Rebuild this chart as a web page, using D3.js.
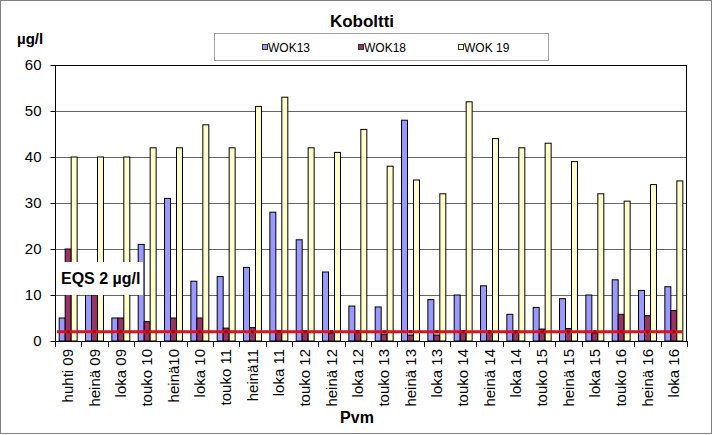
<!DOCTYPE html>
<html>
<head>
<meta charset="utf-8">
<script src="https://cdnjs.cloudflare.com/ajax/libs/d3/7.8.5/d3.min.js"></script>
<style>
  body { margin: 0; background: #fff; }
  svg { display: block; font-family: "Liberation Sans", Arial, sans-serif; }
</style>
</head>
<body>
<svg id="svg" width="714" height="435"></svg>
<script>
// kategoriat (näytteenottokerrat)
var cats = ["huhti 09", "heinä 09", "loka 09", "touko 10", "heinä10", "loka 10", "touko 11", "heinä11",
  "loka 11", "touko 12", "heinä 12", "loka 12", "touko 13", "heinä 13", "loka 13", "touko 14",
  "heinä 14", "loka 14", "touko 15", "heinä 15", "loka 15", "touko 16", "heinä 16", "loka 16"];
var seriesNames = ["WOK13", "WOK18", "WOK 19"];
var wok13 = [5, 10, 5, 21, 31, 13, 14, 16, 28, 22, 15, 7.6, 7.4, 48, 9, 10, 12, 5.8, 7.3, 9.2, 10, 13.3, 11, 11.8];
var wok18 = [20, 10, 5, 4.2, 5, 5, 2.8, 2.9, 2.3, 2.2, 1.7, 2.2, 1.5, 1.3, 1.3, 2.2, 2.1, 2.2, 2.6, 2.7, 1.7, 5.8, 5.5, 6.6];
var wok19 = [40, 40, 40, 42, 42, 47, 42, 51, 53, 42, 41, 46, 38, 35, 32, 52, 44, 42, 43, 39, 32, 30.4, 34, 34.8];
var yTicks = [0, 10, 20, 30, 40, 50, 60];
var eqs = 2;

var colors = ["#9999ff", "#993366", "#ffffcc"];

var svg = d3.select("#svg");
var pLeft = 55, pRight = 687, pTop = 65, pBottom = 341;

var x0 = d3.scaleBand().domain(cats).range([pLeft, pRight]).padding(0);
var x1 = d3.scaleBand().domain(seriesNames).range([0, x0.bandwidth()]).paddingInner(0).paddingOuter(0.7);
var y = d3.scaleLinear().domain([0, 60]).range([pBottom, pTop]);

// ulkoreunus
svg.append("rect").attr("x", 0.5).attr("y", 0.5).attr("width", 711).attr("height", 433)
  .attr("fill", "#fff").attr("stroke", "#808080");

// otsikko
svg.append("text").attr("x", 362).attr("y", 27).attr("text-anchor", "middle")
  .attr("font-size", 17).attr("font-weight", "bold").text("Koboltti");
svg.append("text").attr("x", 17).attr("y", 44)
  .attr("font-size", 15).attr("font-weight", "bold").text("µg/l");

// legenda
var lg = svg.append("g");
lg.append("rect").attr("x", 214.5).attr("y", 33.5).attr("width", 334).attr("height", 27)
  .attr("fill", "#fff").attr("stroke", "#a0a0a0");
var legX = [262, 358, 458];
seriesNames.forEach(function(s, i) {
  lg.append("rect").attr("x", legX[i] + 0.5).attr("y", 44.5).attr("width", 5).attr("height", 5)
    .attr("fill", colors[i]).attr("stroke", "#333");
  lg.append("text").attr("x", legX[i] + 6).attr("y", 51.5)
    .attr("font-size", 12).text(s);
});

// apuviivat
svg.append("g").selectAll("line").data(yTicks.slice(1, -1)).enter().append("line")
  .attr("x1", pLeft).attr("x2", pRight)
  .attr("y1", function(d) { return Math.round(y(d)) + 0.5; })
  .attr("y2", function(d) { return Math.round(y(d)) + 0.5; })
  .attr("stroke", "#666").attr("stroke-width", 1);

// pylväät
var rows = cats.map(function(c, i) { return {cat: c, vals: [wok13[i], wok18[i], wok19[i]]}; });
var grp = svg.append("g").selectAll("g").data(rows).enter().append("g")
  .attr("transform", function(d) { return "translate(" + x0(d.cat) + ",0)"; });
grp.selectAll("rect").data(function(d) {
    return d.vals.map(function(v, k) { return {s: seriesNames[k], v: v, k: k}; });
  }).enter().append("rect")
  .attr("x", function(d) { return x1(d.s); })
  .attr("y", function(d) { return y(d.v); })
  .attr("width", x1.bandwidth())
  .attr("height", function(d) { return y(0) - y(d.v); })
  .attr("fill", function(d) { return colors[d.k]; })
  .attr("stroke", "#000").attr("stroke-width", 1);

// EQS-raja
svg.append("line").attr("x1", pLeft + 2).attr("x2", pRight - 5)
  .attr("y1", y(eqs)).attr("y2", y(eqs))
  .attr("stroke", "#e0101e").attr("stroke-width", 3);
svg.append("g").selectAll("rect").data(cats).enter().append("rect")
  .attr("x", function(d) { return x0(d) + x0.bandwidth() / 2 - 1.5; })
  .attr("y", y(eqs) - 1.5).attr("width", 3).attr("height", 3)
  .attr("fill", "#a00010");

svg.append("rect").attr("x", 57).attr("y", 262).attr("width", 86).attr("height", 33).attr("fill", "#fff");
svg.append("text").attr("x", 61).attr("y", 284)
  .attr("font-size", 16).attr("font-weight", "bold").text("EQS 2 µg/l");

// piirtoalueen reunat
svg.append("rect").attr("x", pLeft + 0.5).attr("y", pTop + 0.5)
  .attr("width", pRight - pLeft - 1).attr("height", pBottom - pTop)
  .attr("fill", "none").attr("stroke", "#000");

// y-akseli
var ya = svg.append("g").attr("transform", "translate(" + (pLeft + 0.5) + ",0)")
  .call(d3.axisLeft(y).tickValues(yTicks).tickSize(5).tickPadding(9));
ya.select(".domain").remove();
ya.selectAll("line").attr("stroke", "#000");
ya.selectAll("text").attr("font-size", 15).attr("font-family", "Liberation Sans, Arial").attr("fill", "#000");

// x-akseli: tikit kategorioiden rajoilla
svg.append("g").selectAll("line").data(d3.range(cats.length + 1)).enter().append("line")
  .attr("x1", function(i) { return Math.round(pLeft + i * x0.step()) + 0.5; })
  .attr("x2", function(i) { return Math.round(pLeft + i * x0.step()) + 0.5; })
  .attr("y1", pBottom).attr("y2", pBottom + 6)
  .attr("stroke", "#000");
svg.append("g").selectAll("text").data(cats).enter().append("text")
  .attr("transform", function(d) {
    return "translate(" + (x0(d) + x0.bandwidth() / 2) + "," + 349 + ") rotate(-90)";
  })
  .attr("text-anchor", "end").attr("dy", "0.35em")
  .attr("font-size", 15).text(function(d) { return d; });

svg.append("text").attr("x", 357).attr("y", 423).attr("text-anchor", "middle")
  .attr("font-size", 16).attr("font-weight", "bold").text("Pvm");
</script>
</body>
</html>
